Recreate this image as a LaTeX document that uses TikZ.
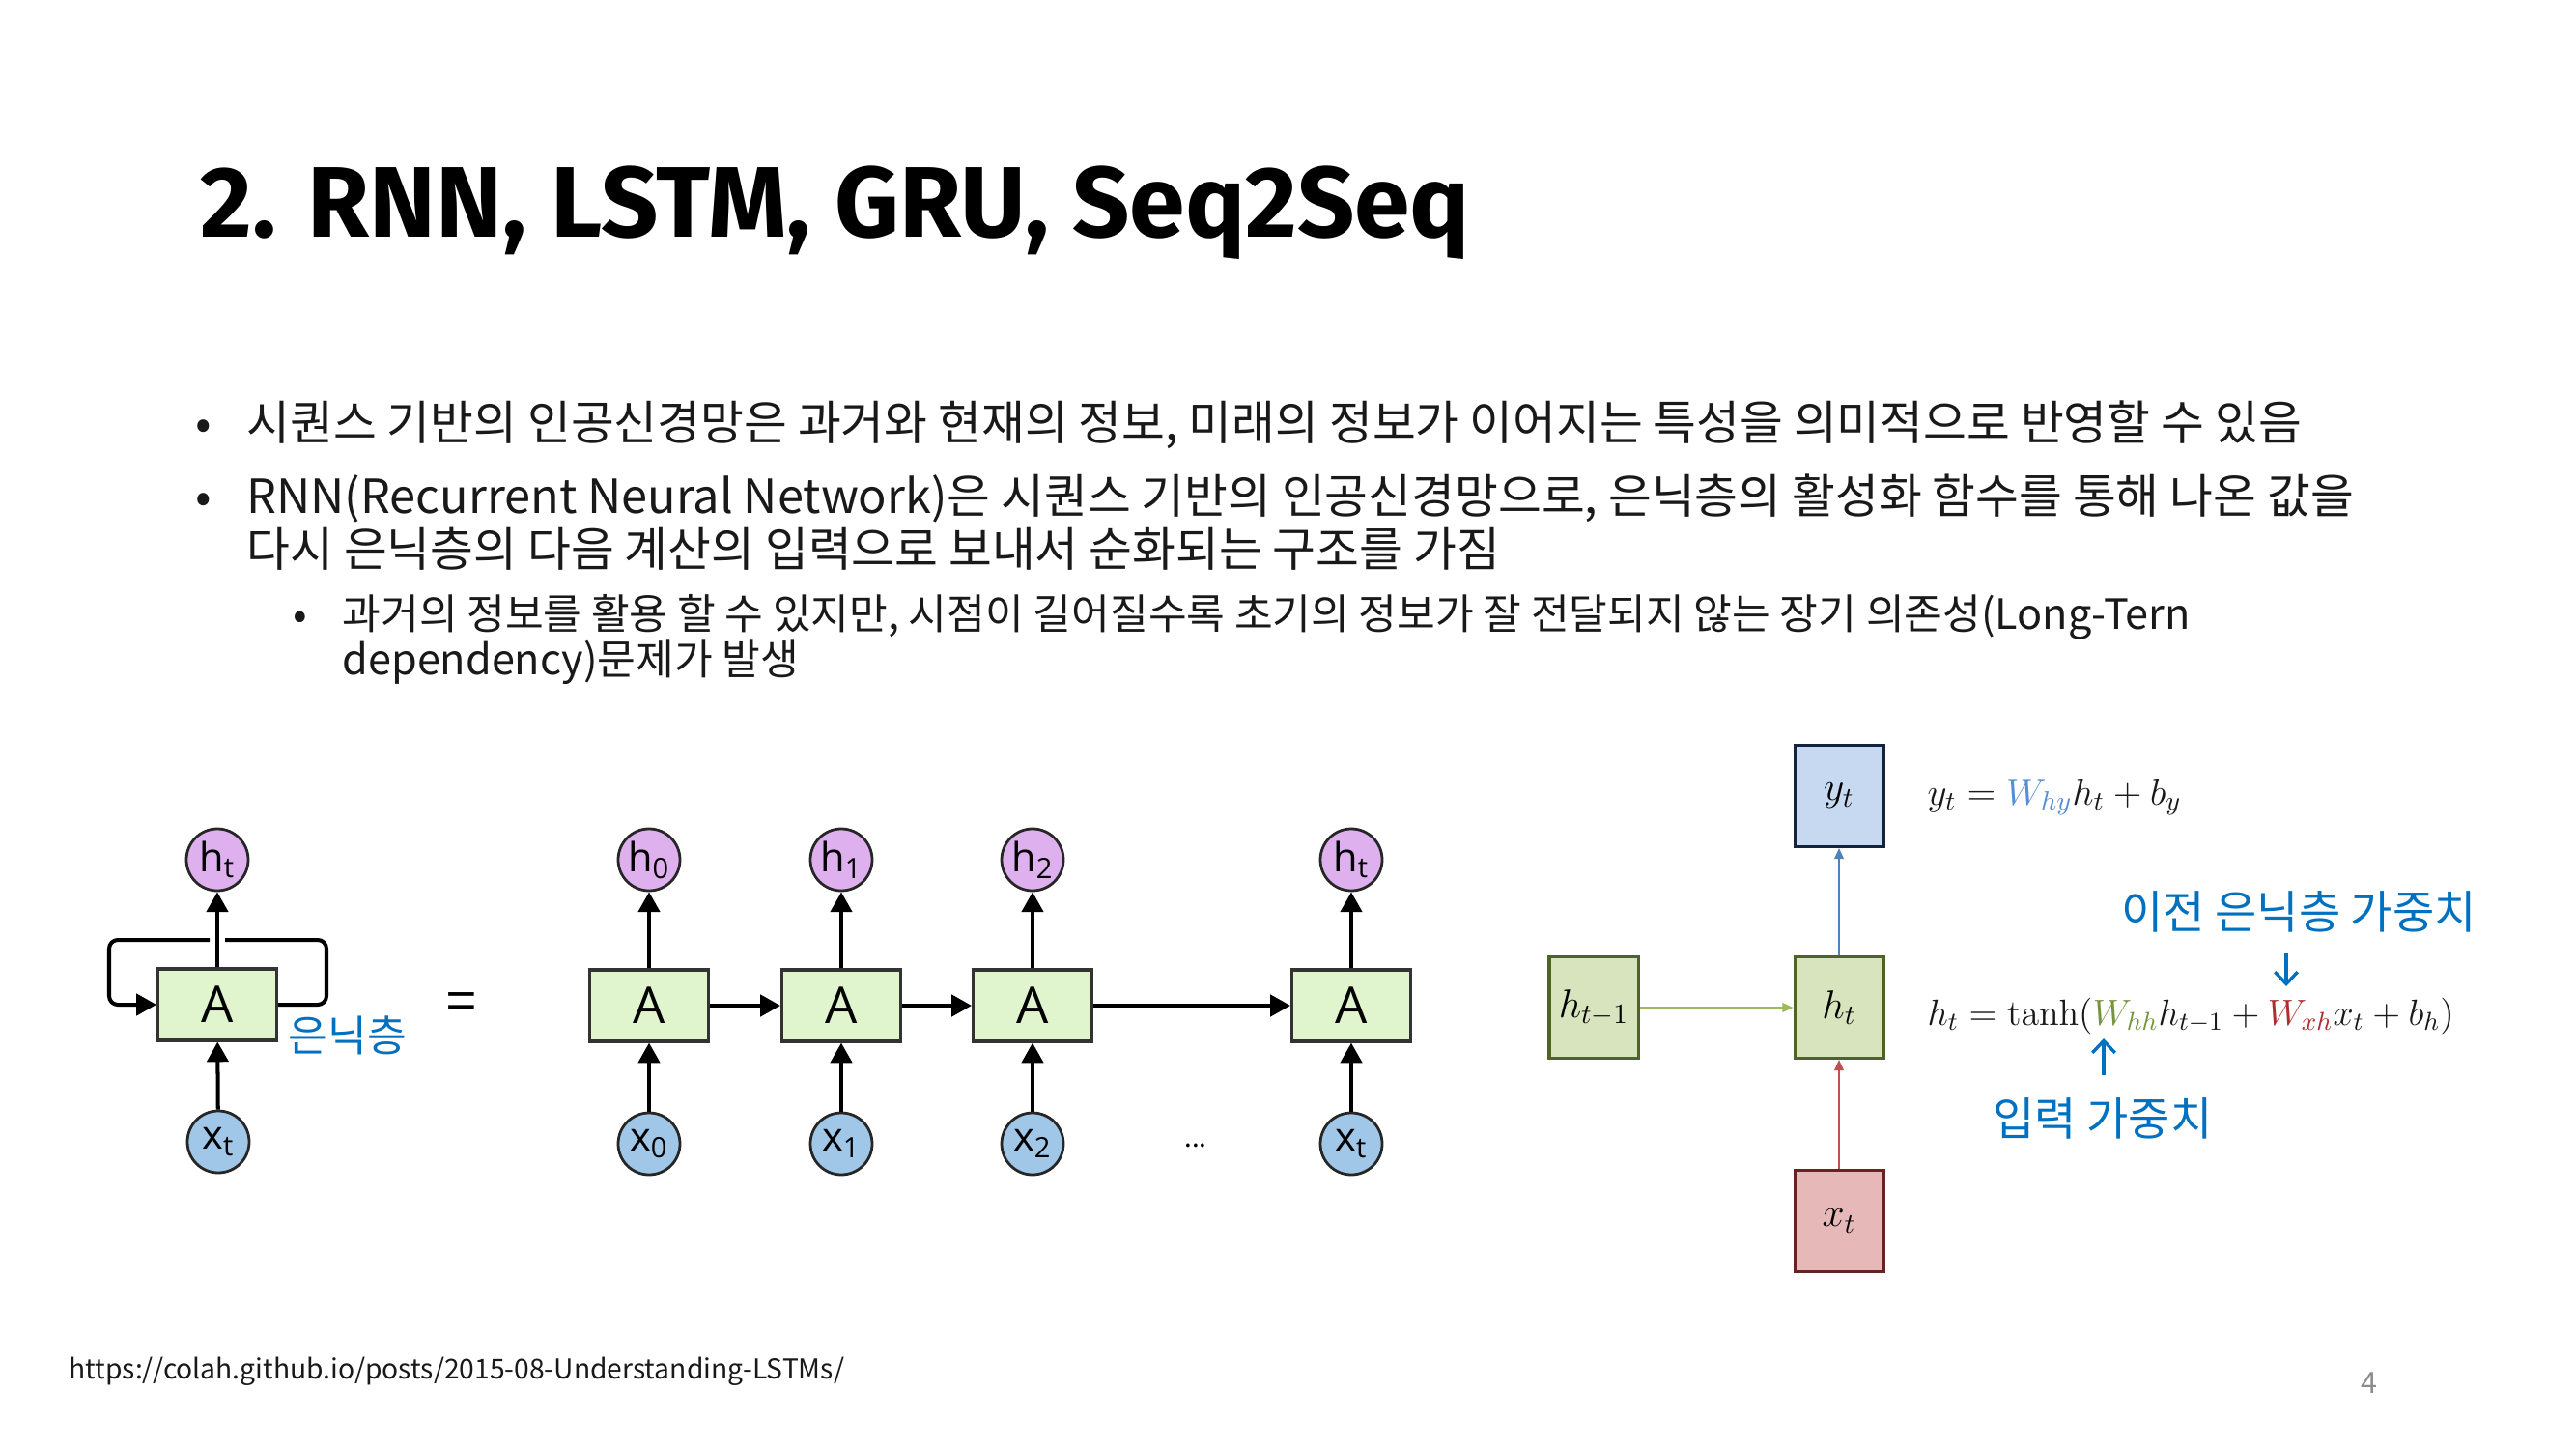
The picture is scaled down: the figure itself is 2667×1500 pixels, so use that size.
\RequirePackage{fix-cm}
\documentclass[tikz,border=0pt]{standalone}
\usepackage[no-math]{fontspec}
\usepackage{tikz}
\usepackage{xcolor}
\usetikzlibrary{arrows.meta}
\setmainfont{Noto Sans CJK KR}
\newfontfamily\titlefont{Fira Sans}
\newfontfamily\cellfont{Open Sans}
\newcommand{\px}{0.3613pt}
\definecolor{cellgreen}{RGB}{224,245,206}
\definecolor{hpurple}{RGB}{222,176,238}
\definecolor{xblue}{RGB}{160,198,232}
\definecolor{kblue}{RGB}{0,112,192}
\definecolor{yfill}{RGB}{198,217,241}
\definecolor{ydraw}{RGB}{20,36,64}
\definecolor{hfill}{RGB}{215,228,189}
\definecolor{hdraw}{RGB}{79,98,40}
\definecolor{xfill}{RGB}{230,184,183}
\definecolor{xdraw}{RGB}{99,37,35}
\definecolor{yline}{RGB}{79,129,189}
\definecolor{hline}{RGB}{155,187,89}
\definecolor{xline}{RGB}{192,80,77}
\definecolor{whyc}{RGB}{85,142,213}
\definecolor{whhc}{RGB}{119,147,60}
\definecolor{wxhc}{RGB}{175,45,45}

\begin{document}
\begin{tikzpicture}[x=0.3613pt,y=-0.3613pt,
    txt/.style={anchor=base west,inner sep=0pt,text=black!90},
    body/.style={txt,font=\fontsize{17.6}{21}\selectfont},
    subbody/.style={txt,font=\fontsize{15.6}{18}\selectfont},
    cell/.style={draw=black!80,line width=1.1pt,fill=cellgreen,minimum width=123*\px,minimum height=74*\px,inner sep=0pt,font=\cellfont\fontsize{19}{19}\selectfont},
    hnode/.style={circle,draw=black!85,line width=1pt,fill=hpurple,minimum size=64*\px,inner sep=0pt,font=\cellfont\fontsize{15}{15}\selectfont},
    xnode/.style={hnode,fill=xblue},
    flow/.style={line width=1.45pt,-{Triangle[width=8pt,length=7.5pt]}},
    rbox/.style={line width=1.1pt,minimum width=92*\px,minimum height=105*\px,inner sep=0pt,font=\fontsize{15}{15}\selectfont},
    thinflow/.style={line width=0.55pt,-{Triangle[width=3.5pt,length=4pt]}},
    klabel/.style={inner sep=0pt,text=kblue,font=\fontsize{17}{17}\selectfont},
    karrow/.style={kblue,line width=1.2pt,-{Straight Barb[width=8.5pt,length=4.5pt]}}]
    \useasboundingbox[fill=white] (0,0) rectangle (2667,1500);

    \node[txt,font=\titlefont\bfseries\fontsize{37.5}{37.5}\selectfont,text=black] (title) at (207,246) {2. RNN, LSTM, GRU, Seq2Seq};

    \node[body,anchor=base] (d1) at (211,456) {•};
    \node[body] (b1) at (255,456) {시퀀스 기반의 인공신경망은 과거와 현재의 정보, 미래의 정보가 이어지는 특성을 의미적으로 반영할 수 있음};
    \node[body,anchor=base] (d2) at (211,531) {•};
    \node[body] (b2) at (255,531) {RNN(Recurrent Neural Network)은 시퀀스 기반의 인공신경망으로, 은닉층의 활성화 함수를 통해 나온 값을};
    \node[body] (b2b) at (255,586) {다시 은닉층의 다음 계산의 입력으로 보내서 순화되는 구조를 가짐};
    \node[subbody,anchor=base] (d3) at (311,651) {•};
    \node[subbody] (b3) at (354,651) {과거의 정보를 활용 할 수 있지만, 시점이 길어질수록 초기의 정보가 잘 전달되지 않는 장기 의존성(Long-Tern};
    \node[subbody] (b3b) at (354,698) {dependency)문제가 발생};

    \node[cell] (lA) at (225,1040) {A};
    \node[hnode] (lh) at (225,890) {h\textsubscript{t}};
    \node[xnode] (lx) at (226,1182) {x\textsubscript{t}};
    \draw[flow] (lx) -- (lA);
    \draw[flow] (lA) -- (lh);
    \coordinate (gapR) at (233,973);
    \coordinate (gapL) at (217,973);
    \draw[line width=1.45pt,rounded corners=9*\px] (lA.east) -| (338,973) -- (gapR);
    \draw[flow,rounded corners=9*\px] (gapL) -- (113,973) |- (lA.west);
    \node[klabel,anchor=west,font=\fontsize{16}{16}\selectfont] (hid) at (298,1072) {은닉층};
    \node[inner sep=0pt,font=\fontsize{20}{20}\selectfont] (eq) at (478,1042) {=};

    \foreach \i/\x/\s in {0/672/0,1/871/1,2/1069/2,3/1399/t} {
        \node[cell] (A\i) at (\x,1041) {A};
        \node[hnode] (h\i) at (\x,890) {h\textsubscript{\s}};
        \node[xnode] (x\i) at (\x,1184) {x\textsubscript{\s}};
        \draw[flow] (x\i) -- (A\i);
        \draw[flow] (A\i) -- (h\i);
    }
    \draw[flow] (A0) -- (A1);
    \draw[flow] (A1) -- (A2);
    \draw[flow] (A2) -- (A3);
    \node[inner sep=0pt,font=\fontsize{10}{10}\selectfont] (dots) at (1238,1186) {...};

    \node[rbox,fill=yfill,draw=ydraw] (ry) at (1904,824) {$y_t$};
    \node[rbox,fill=hfill,draw=hdraw] (rhp) at (1650,1043) {$h_{t-1}$};
    \node[rbox,fill=hfill,draw=hdraw] (rh) at (1904,1043) {$h_t$};
    \node[rbox,fill=xfill,draw=xdraw] (rx) at (1904,1264) {$x_t$};
    \draw[thinflow,yline] (rh) -- (ry);
    \draw[thinflow,hline] (rhp) -- (rh);
    \draw[thinflow,xline] (rx) -- (rh);

    \node[txt,font=\fontsize{14.1}{14.1}\selectfont] (eqy) at (1995,833) {$y_t = \textcolor{whyc}{W_{hy}} h_t + b_y$};
    \node[txt,font=\fontsize{13.7}{13.7}\selectfont] (eqh) at (1995,1061) {$h_t = \tanh(\textcolor{whhc}{W_{hh}} h_{t-1} + \textcolor{wxhc}{W_{xh}} x_t + b_h)$};

    \node[klabel] (prevw) at (2380,944) {이전 은닉층 가중치};
    \coordinate (dtop) at (2367,987);
    \coordinate (wxh) at (2367,1021);
    \draw[karrow] (dtop) -- (wxh);
    \node[klabel] (inw) at (2177,1158) {입력 가중치};
    \coordinate (ubot) at (2178,1113);
    \coordinate (whh) at (2178,1075);
    \draw[karrow] (ubot) -- (whh);

    \node[txt,font=\fontsize{10.2}{10.2}\selectfont] (src) at (71,1427) {https://colah.github.io/posts/2015-08-Understanding-LSTMs/};
    \node[txt,anchor=base,text=black!45,font=\fontsize{11}{11}\selectfont] (page) at (2453,1442) {4};
\end{tikzpicture}
\end{document}
